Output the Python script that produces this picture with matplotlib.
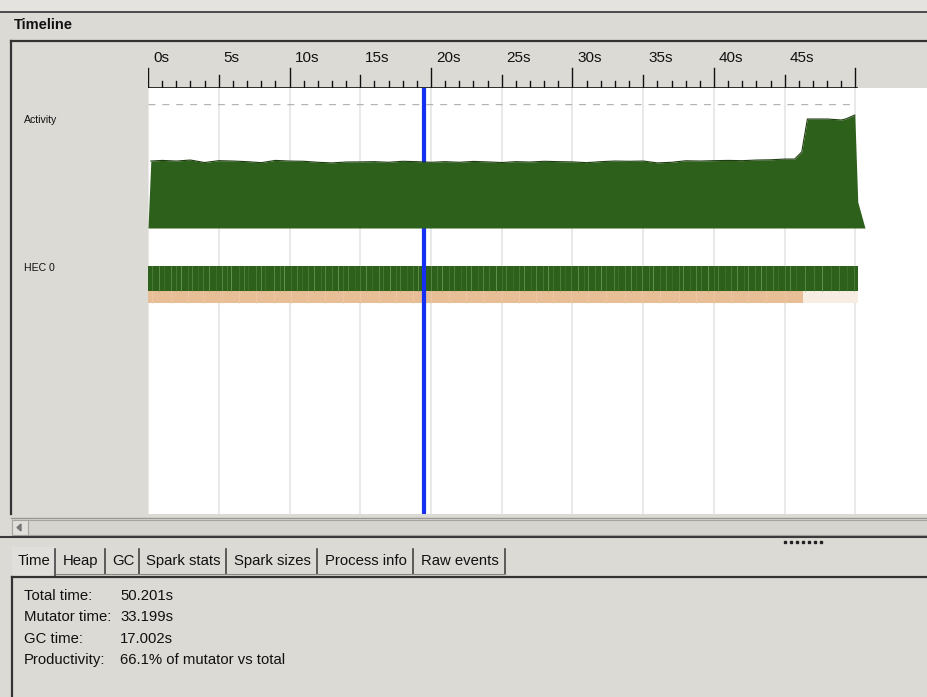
import matplotlib.pyplot as plt
from matplotlib.patches import Rectangle

plt.rcParams['font.family'] = ['Liberation Sans', 'DejaVu Sans']

W, H = 928, 697
PX_PER_S = 14.15
T_MAX = (W - 148) / PX_PER_S

# activity profile (fraction of one HEC busy)
act_t = [0.0, 0.2, 1, 2, 3, 4, 5, 6, 7, 8, 9, 10, 11, 12, 13, 14, 15, 16, 17, 18, 19,
         20, 21, 22, 23, 24, 25, 26, 27, 28, 29, 30, 31, 32, 33, 34, 35, 36, 37, 38, 39,
         40, 41, 42, 43, 44, 45, 45.7, 46.2, 46.6, 48.0, 49.0, 49.3, 49.95, 50.16, 50.67]
act_v = [0.0, 0.54, 0.545, 0.54, 0.548, 0.528, 0.543, 0.54, 0.535, 0.527, 0.545, 0.54,
         0.538, 0.53, 0.525, 0.532, 0.533, 0.535, 0.53, 0.538, 0.535, 0.53, 0.535, 0.53,
         0.537, 0.533, 0.528, 0.535, 0.532, 0.538, 0.535, 0.533, 0.527, 0.535, 0.54,
         0.538, 0.54, 0.525, 0.53, 0.542, 0.54, 0.543, 0.545, 0.543, 0.548, 0.55, 0.556,
         0.556, 0.613, 0.879, 0.879, 0.871, 0.879, 0.911, 0.21, 0.0]

# GC events seen as light stripes in the HEC 0 bar (seconds)
gc_times = [0.3, 0.8, 1.1, 1.6, 2.0, 2.3, 2.8, 3.1, 3.5, 3.9, 4.3, 4.8, 5.2, 5.6, 5.9,
            6.4, 6.8, 7.1, 7.6, 8.0, 8.3, 8.9, 9.3, 9.6, 10.1, 10.5, 10.9, 11.3, 11.7,
            12.2, 12.5, 13.0, 13.4, 13.8, 14.1, 14.6, 15.0, 15.4, 15.8, 16.3, 16.6,
            17.1, 17.5, 17.8, 18.3, 18.7, 19.1, 19.6, 20.0, 20.4, 20.8, 21.3, 21.6,
            22.1, 22.5, 22.8, 23.3, 23.7, 24.1, 24.6, 25.0, 25.3, 25.8, 26.2, 26.6,
            27.1, 27.4, 27.9, 28.3, 28.6, 29.1, 29.5, 29.9, 30.4, 30.8, 31.1, 31.6,
            32.0, 32.4, 32.9, 33.2, 33.7, 34.1, 34.5, 34.9, 35.4, 35.7, 36.2, 36.6,
            37.0, 37.5, 37.8, 38.3, 38.7, 39.1, 39.6, 40.0, 40.3, 40.8, 41.2, 41.6,
            42.1, 42.4, 42.9, 43.3, 43.7, 44.2, 44.5, 45.0, 45.4, 45.8, 46.4, 47.1,
            47.6, 48.3, 48.8, 49.4, 49.9]
gc_strength = [0.5, 0.8, 0.3, 0.7, 0.45, 0.9, 0.35, 0.6, 0.25]

run_end = 50.2
gc_bar_end = 46.27
cursor_t = 19.54
major_labels = ['0s', '5s', '10s', '15s', '20s', '25s', '30s', '35s', '40s', '45s']

stats_names = ['Total time:', 'Mutator time:', 'GC time:', 'Productivity:']
stats_vals = ['50.201s', '33.199s', '17.002s', '66.1% of mutator vs total']
tabs = ['Time', 'Heap', 'GC', 'Spark stats', 'Spark sizes', 'Process info', 'Raw events']
tab_edges = [12, 55, 105, 139, 226, 317, 413, 505]

BG = '#dcdad5'
GREEN = '#2d601b'


def px_axes(fig, x0, y0, x1, y1):
    return fig.add_axes([x0 / W, 1 - y1 / H, (x1 - x0) / W, (y1 - y0) / H])


fig = plt.figure(figsize=(W / 100, H / 100), dpi=100)
fig.patch.set_facecolor(BG)

# window chrome in pixel coordinates
ui = px_axes(fig, 0, 0, W, H)
ui.set_xlim(0, W)
ui.set_ylim(H, 0)
ui.axis('off')
ui.add_patch(Rectangle((0, 0), W, 11, color='#e4e3df'))
ui.plot([0, W], [12, 12], color='#4a4a4a', lw=1.4)
ui.text(14, 25, 'Timeline', fontsize=10.5, fontweight='bold', va='center', color='#111111')
ui.plot([11, W], [41, 41], color='#333333', lw=1.6)
ui.plot([11, 11], [41, 514], color='#333333', lw=1.6)
ui.text(24, 120, 'Activity', fontsize=7.6, va='center', color='#111111')
ui.text(24, 268, 'HEC 0', fontsize=7.6, va='center', color='#111111')

# scrollbar
ui.plot([11, W], [518, 518], color='#9a9893', lw=1)
ui.add_patch(Rectangle((12, 520), W - 12, 15, facecolor='#d6d4cf', edgecolor='#a6a49f', lw=0.8))
ui.add_patch(Rectangle((12, 520), 16, 15, facecolor='#e2e0dc', edgecolor='#a6a49f', lw=0.8))
ui.fill([21, 17, 21], [524, 527.5, 531], color='#777777')
ui.plot([0, W], [536.5, 536.5], color='#3a3a3a', lw=1.5)
for k in range(7):
    ui.add_patch(Rectangle((784 + k * 6, 541), 2, 2, color='#222222'))

# notebook tabs
ui.add_patch(Rectangle((12, 547), 43, 30, color='#e1dfdb'))
for i, name in enumerate(tabs):
    left, right = tab_edges[i], tab_edges[i + 1]
    ui.text((left + right) / 2 + 1, 561, name, fontsize=10.7, ha='center', va='center', color='#111111')
    if i > 0:
        ui.plot([right, right], [549, 574], color='#444444', lw=1.2)
ui.plot([55, 55], [549, 576], color='#444444', lw=1.2)
ui.plot([56, tab_edges[-1]], [574, 574], color='#8a8883', lw=0.8)
ui.plot([12, W], [577, 577], color='#333333', lw=1.6)
ui.plot([12, 12], [577, H], color='#333333', lw=1.6)
for k, (name, val) in enumerate(zip(stats_names, stats_vals)):
    y = 596 + k * 21.3
    ui.text(24, y, name, fontsize=10.7, va='center', color='#111111')
    ui.text(120, y, val, fontsize=10.7, va='center', color='#111111')

# ruler
ruler = px_axes(fig, 148, 42, W, 88)
ruler.set_xlim(0, T_MAX)
ruler.set_ylim(0, 1)
ruler.axis('off')
for s in range(0, 51):
    if s % 10 == 0:
        h = 0.43
    elif s % 5 == 0:
        h = 0.28
    else:
        h = 0.15
    ruler.plot([s, s], [0, h], color='#111111', lw=1)
ruler.plot([0, 50.1], [0.01, 0.01], color='#111111', lw=1.2)
for k, lab in enumerate(major_labels):
    ruler.text(k * 5 + 0.35, 0.66, lab, fontsize=11, va='center', color='#111111')

# timeline body
tl = px_axes(fig, 148, 88, W, 514)
tl.set_xlim(0, T_MAX)
tl.set_ylim(514, 88)
tl.axis('off')
tl.add_patch(Rectangle((0, 88), T_MAX, 426, color='white', zorder=0))
for s in range(0, 51, 5):
    tl.plot([s, s], [88, 514], color='#e9e9e9', lw=1.5, zorder=1)
tl.add_patch(Rectangle((0, 266), run_end, 25, color=GREEN, lw=0, zorder=2))
for i, t in enumerate(gc_times):
    a = gc_strength[i % len(gc_strength)]
    tl.plot([t, t], [266, 291], color='#72a05c', lw=0.6, alpha=a, zorder=3)
tl.add_patch(Rectangle((0, 291), gc_bar_end, 12, color='#e8be96', lw=0, zorder=2))
tl.add_patch(Rectangle((gc_bar_end, 291), run_end - gc_bar_end, 12, color='#f8ede2', lw=0, zorder=2))
for i, t in enumerate(gc_times[::3]):
    if t < gc_bar_end:
        tl.plot([t, t], [291, 303], color='#f0cfae', lw=0.8, alpha=0.5, zorder=3)

# activity graph
act = px_axes(fig, 148, 104, W, 228)
act.set_xlim(0, T_MAX)
act.set_ylim(0, 1)
act.axis('off')
act.patch.set_alpha(0)
act.hlines(1, 0, 50, colors='#b4b4b4', linestyles=(0, (5, 5)), lw=1)
act.fill_between(act_t, act_v, 0, color=GREEN, lw=0, zorder=2)
act.plot(act_t[1:-2], act_v[1:-2], color='#1f3d12', lw=0.8, zorder=3)

# cursor
tl.plot([cursor_t, cursor_t], [88, 514], color='#1530f0', lw=3, zorder=6)

fig.savefig('out.png', dpi=100, facecolor=BG)
